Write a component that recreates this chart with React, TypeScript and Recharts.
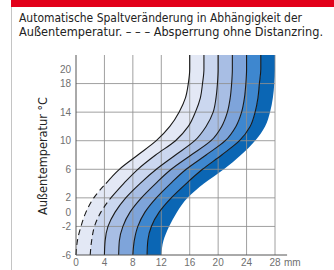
import {
  Area,
  ComposedChart,
  Line,
  ReferenceLine,
  XAxis,
  YAxis,
} from "recharts";

// outside temperature (°C) -> gap width (mm) for each curve
const temps = [-6, -4, -2, 0, 2, 4, 6, 8, 10, 12, 14, 16, 18, 20, 22];
const gap0 = [0, 0.2, 0.7, 1.4, 2.5, 4.2, 6.1, 8.7, 11.3, 13.2, 14.5, 15.4, 15.8, 16, 16];
const gap1 = [2, 2.2, 2.6, 3.5, 4.9, 6.7, 8.7, 11.2, 14, 15.8, 16.8, 17.5, 17.8, 18, 18];
const gap2 = [4, 4.1, 4.5, 5.5, 7.0, 9.0, 11.3, 14.0, 16.7, 18.3, 19.3, 19.7, 19.9, 20, 20];
const gap3 = [6, 6.1, 6.6, 7.6, 9.2, 11.2, 13.4, 16.2, 19.0, 20.5, 21.3, 21.7, 21.9, 22, 22];
const gap4 = [8, 8.2, 8.7, 9.7, 11.3, 13.3, 15.5, 18.3, 21.0, 22.5, 23.3, 23.7, 23.9, 24, 24];
const gap5 = [10, 10.1, 10.6, 11.7, 13.4, 15.5, 17.8, 20.5, 23.0, 24.5, 25.2, 25.6, 25.8, 26, 26];
const gap6 = [12, 12.3, 13.1, 14.2, 15.7, 18.0, 20.8, 23.2, 25.2, 26.6, 27.3, 27.7, 27.9, 28, 28];

const curves = [gap0, gap1, gap2, gap3, gap4, gap5, gap6];
const bandFills = ["#e3e8f5", "#cbd7ef", "#a8bee4", "#7ea4da", "#3e87cf", "#0b66b4"];
// the two left curves are dashed (ohne Distanzring) up to these temperatures
const dashUntil = [4, 2];

const xTicks = [0, 4, 8, 12, 16, 20, 24, 28];
const yTicks = [-6, -2, 0, 2, 6, 10, 14, 18, 20];
const hGrid = [-2, 2, 6, 10, 14, 18];
const vGrid = [4, 8, 12, 16, 20, 24, 28];

const rows = temps.map((t, i) => {
  const row: Record<string, number | null> = { t };
  curves.forEach((c, k) => {
    row[`c${k}`] = c[i];
    row[`b${k}`] = k === 0 ? c[i] : c[i] - curves[k - 1][i];
  });
  dashUntil.forEach((lim, k) => {
    row[`d${k}`] = t <= lim ? curves[k][i] : null;
    row[`s${k}`] = t >= lim ? curves[k][i] : null;
  });
  return row;
});

const tickStyle = { fill: "#707070", fontSize: 10, fontFamily: "Liberation Sans, Arial, sans-serif" };

const XTick = (props: any) => {
  const { x, y, payload } = props;
  return (
    <g>
      <text x={x} y={y} dy="0.71em" textAnchor="middle" {...tickStyle}>
        {payload.value}
      </text>
      {payload.value === 28 && (
        <text x={x + 9} y={y} dy="0.71em" textAnchor="start" {...tickStyle}>
          mm
        </text>
      )}
    </g>
  );
};

const narrow = "'Liberation Sans Narrow', 'DejaVu Sans Condensed', Arial, sans-serif";

export default function App() {
  return (
    <div
      style={{
        position: "absolute",
        left: 0,
        top: 0,
        width: 334,
        height: 270,
        background: "#fff",
        overflow: "hidden",
      }}
    >
      <svg width={334} height={270} style={{ position: "absolute", left: 0, top: 0 }}>
        <rect x={11} y={0} width={323} height={7} fill="#e2001a" />
        <line x1={11.5} y1={7} x2={11.5} y2={270} stroke="#c4c4c4" />
        <text x={19} y={21.5} fontSize={13} fill="#222" fontFamily={narrow} textLength={283} lengthAdjust="spacingAndGlyphs">
          Automatische Spaltveränderung in Abhängigkeit der
        </text>
        <text x={19} y={36} fontSize={13} fill="#222" fontFamily={narrow} textLength={304} lengthAdjust="spacingAndGlyphs">
          Außentemperatur. – – – Absperrung ohne Distanzring.
        </text>
        <text
          x={47}
          y={156}
          fontSize={13}
          fill="#222"
          fontFamily={narrow}
          textAnchor="middle"
          textLength={118}
          lengthAdjust="spacingAndGlyphs"
          transform="rotate(-90 47 156)"
        >
          Außentemperatur °C
        </text>
      </svg>
      <div style={{ position: "absolute", left: 0, top: 0 }}>
        <ComposedChart
          width={334}
          height={270}
          data={rows}
          layout="vertical"
          margin={{ top: 55, right: 59, bottom: 0, left: 0 }}
        >
          <XAxis
            type="number"
            domain={[0, 28]}
            ticks={xTicks}
            interval={0}
            height={15}
            tickSize={0}
            tickMargin={4}
            tick={<XTick />}
            axisLine={{ stroke: "#555", strokeWidth: 1 }}
          />
          <YAxis
            type="number"
            dataKey="t"
            domain={[-6, 22]}
            reversed
            ticks={yTicks}
            interval={0}
            width={76}
            tickSize={0}
            tickMargin={5}
            tick={tickStyle}
            axisLine={{ stroke: "#555", strokeWidth: 1 }}
          />
          {curves.map((_, k) => (
            <Area
              key={`b${k}`}
              type="monotone"
              dataKey={`b${k}`}
              stackId="gap"
              stroke="none"
              fill={k === 0 ? "none" : bandFills[k - 1]}
              fillOpacity={1}
              isAnimationActive={false}
              dot={false}
              activeDot={false}
            />
          ))}
          {hGrid.map((v) => (
            <ReferenceLine key={`h${v}`} y={v} stroke="#8f8f8f" strokeWidth={1} strokeOpacity={0.85} zIndex={300} />
          ))}
          {vGrid.map((v) => (
            <ReferenceLine key={`v${v}`} x={v} stroke="#8f8f8f" strokeWidth={1} strokeOpacity={0.85} zIndex={300} />
          ))}
          <ReferenceLine
            segment={[{ x: 28, y: -6 }, { x: 29.7, y: -6 }]}
            stroke="#555"
            ifOverflow="visible"
          />
          {dashUntil.map((_, k) => (
            <Line
              key={`d${k}`}
              type="monotone"
              dataKey={`d${k}`}
              stroke="#1a1a1a"
              strokeWidth={1.1}
              strokeDasharray="6 4"
              dot={false}
              activeDot={false}
              isAnimationActive={false}
            />
          ))}
          {dashUntil.map((_, k) => (
            <Line
              key={`s${k}`}
              type="monotone"
              dataKey={`s${k}`}
              stroke="#1a1a1a"
              strokeWidth={1.1}
              dot={false}
              activeDot={false}
              isAnimationActive={false}
            />
          ))}
          {[2, 3, 4, 5].map((k) => (
            <Line
              key={`c${k}`}
              type="monotone"
              dataKey={`c${k}`}
              stroke="#1a1a1a"
              strokeWidth={1.1}
              dot={false}
              activeDot={false}
              isAnimationActive={false}
            />
          ))}
        </ComposedChart>
      </div>
    </div>
  );
}
